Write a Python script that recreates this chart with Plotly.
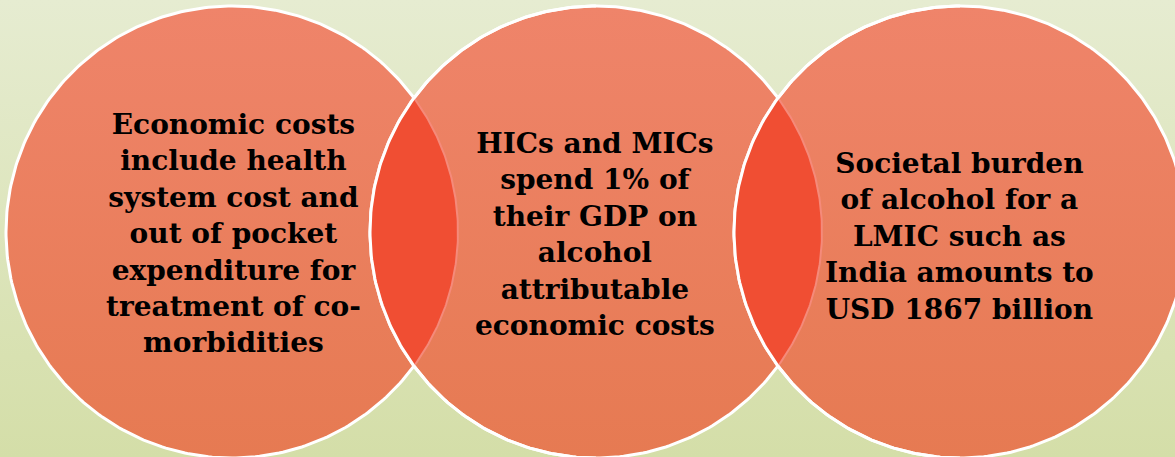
import numpy as np
import plotly.graph_objects as go

W, H = 1175, 457

# Diagram content
labels = [
    "Economic costs<br>include health<br>system cost and<br>out of pocket<br>expenditure for<br>treatment of co-<br>morbidities",
    "HICs and MICs<br>spend 1% of<br>their GDP on<br>alcohol<br>attributable<br>economic costs",
    "Societal burden<br>of alcohol for a<br>LMIC such as<br>India amounts to<br>USD 1867 billion",
]
centers_x = [232, 596, 960]
centers_y = [232, 232, 232]
label_x = [233, 595, 959]
label_y = [233, 234, 236]
radius = 226

circle_top = "#EF846A"
circle_bot = "#E67A52"
lens_color = "#F04E33"
bg_top = "#E6ECD1"
bg_bot = "#D4DEA8"

def circle_pts(cx, cy, r, n=361):
    t = np.linspace(0, 2 * np.pi, n)
    return cx + r * np.cos(t), cy + r * np.sin(t)

def lens_pts(c1, c2, r, cy, n=120):
    d = c2 - c1
    a = np.arccos((d / 2) / r)
    t2 = np.linspace(np.pi - a, np.pi + a, n)
    x2 = c2 + r * np.cos(t2)
    y2 = cy + r * np.sin(t2)
    t1 = np.linspace(-a, a, n)
    x1 = c1 + r * np.cos(t1)
    y1 = cy + r * np.sin(t1)
    return np.concatenate([x2, x1]), np.concatenate([y2, y1])

fig = go.Figure()

# background
fig.add_trace(go.Scatter(
    x=[0, W, W, 0, 0], y=[0, 0, H, H, 0], fill="toself", mode="lines",
    line=dict(width=0), hoverinfo="skip",
    fillgradient=dict(type="vertical", colorscale=[[0, bg_bot], [1, bg_top]]),
))

# circles
for cx, cy in zip(centers_x, centers_y):
    x, y = circle_pts(cx, cy, radius)
    fig.add_trace(go.Scatter(
        x=x, y=y, fill="toself", mode="lines",
        line=dict(color="white", width=3), hoverinfo="skip",
        fillgradient=dict(type="vertical", colorscale=[[0, circle_bot], [1, circle_top]]),
    ))

# lenses
for i in range(len(centers_x) - 1):
    x, y = lens_pts(centers_x[i], centers_x[i + 1], radius, centers_y[i])
    fig.add_trace(go.Scatter(
        x=x, y=y, fill="toself", fillcolor=lens_color, mode="lines",
        line=dict(color="#F58A7A", width=2), hoverinfo="skip",
    ))

# redraw outlines of circles 2 and 3 over lenses
for cx, cy in zip(centers_x[1:], centers_y[1:]):
    t = np.linspace(np.pi / 2, 3 * np.pi / 2, 181)
    fig.add_trace(go.Scatter(
        x=cx + radius * np.cos(t), y=cy + radius * np.sin(t), mode="lines",
        line=dict(color="white", width=3), hoverinfo="skip",
    ))

for lab, lx, ly in zip(labels, label_x, label_y):
    fig.add_annotation(
        x=lx, y=ly, text=lab, showarrow=False, xanchor="center", yanchor="middle",
        align="center",
        font=dict(family="DejaVu Serif", size=28, color="black", weight="bold"),
    )

fig.update_layout(
    width=W, height=H, margin=dict(l=0, r=0, t=0, b=0),
    showlegend=False, paper_bgcolor=bg_top, plot_bgcolor=bg_top,
    xaxis=dict(range=[0, W], visible=False, fixedrange=True),
    yaxis=dict(range=[H, 0], visible=False, fixedrange=True),
)

fig.write_html("out.html", config={"displayModeBar": False},
               post_script="document.body.style.margin='0';document.body.style.overflow='hidden';")
